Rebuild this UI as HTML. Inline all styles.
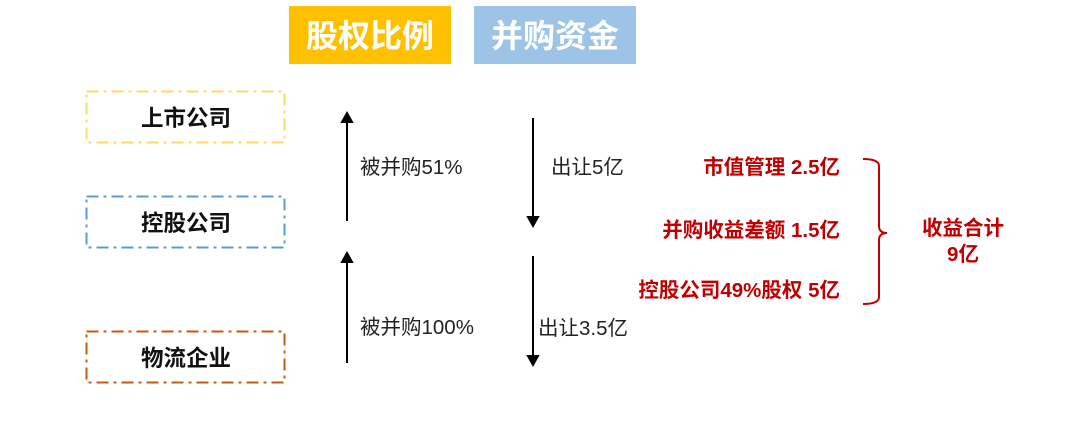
<!DOCTYPE html>
<html><head><meta charset="utf-8"><style>
body{margin:0;background:#fff;}
svg{display:block;font-family:"Liberation Sans","Noto Sans CJK SC",sans-serif;}
</style></head><body>
<svg width="1090" height="423" viewBox="0 0 1090 423">
<g>
<rect x="289" y="6" width="162" height="58" fill="#FFC000"/>
<text x="370" y="47" font-size="32" font-weight="bold" fill="#fff" text-anchor="middle">股权比例</text>
</g>
<g>
<rect x="474" y="6" width="162" height="58" fill="#9DC3E6"/>
<text x="555" y="47" font-size="32" font-weight="bold" fill="#fff" text-anchor="middle">并购资金</text>
</g>
<g>
<rect x="86.5" y="91.5" width="198" height="51" fill="none" stroke="#FFD966" stroke-width="2" stroke-dasharray="12,5,3,5"/>
<text x="186" y="126" font-size="22.5" font-weight="bold" fill="#111" text-anchor="middle">上市公司</text>
</g>
<g>
<rect x="86.5" y="196.5" width="198" height="51" fill="none" stroke="#5B9BD5" stroke-width="2" stroke-dasharray="12,5,3,5"/>
<text x="186" y="231" font-size="22.5" font-weight="bold" fill="#111" text-anchor="middle">控股公司</text>
</g>
<g>
<rect x="86.5" y="331.5" width="198" height="51" fill="none" stroke="#C55A11" stroke-width="2" stroke-dasharray="12,5,3,5"/>
<text x="186" y="366" font-size="22.5" font-weight="bold" fill="#111" text-anchor="middle">物流企业</text>
</g>
<g stroke="#000" stroke-width="2" fill="#000">
<line x1="347" y1="221" x2="347" y2="120"/>
<polygon points="342,122 347,113 352,122"/>
<line x1="347" y1="363" x2="347" y2="260"/>
<polygon points="342,262 347,253 352,262"/>
<line x1="533" y1="118" x2="533" y2="219"/>
<polygon points="528,217 533,226 538,217"/>
<line x1="533" y1="256" x2="533" y2="358"/>
<polygon points="528,356 533,365 538,356"/>
</g>
<g font-size="20.5" fill="#222">
<text x="360" y="174">被并购51%</text>
<text x="551" y="174">出让5亿</text>
<text x="360" y="334">被并购100%</text>
<text x="538" y="335">出让3.5亿</text>
</g>
<g font-size="20.5" font-weight="bold" fill="#C00000" text-anchor="end">
<text x="840" y="174">市值管理 2.5亿</text>
<text x="840" y="237">并购收益差额 1.5亿</text>
<text x="840" y="297">控股公司49%股权 5亿</text>
</g>
<path d="M863,159 Q879,159 879,166 L879,226 Q879,233 887,233 Q879,233 879,240 L879,297 Q879,304 863,304" fill="none" stroke="#C00000" stroke-width="2"/>
<g font-size="20.5" font-weight="bold" fill="#C00000" text-anchor="middle">
<text x="963" y="235">收益合计</text>
<text x="963" y="261">9亿</text>
</g>
</svg>
</body></html>
